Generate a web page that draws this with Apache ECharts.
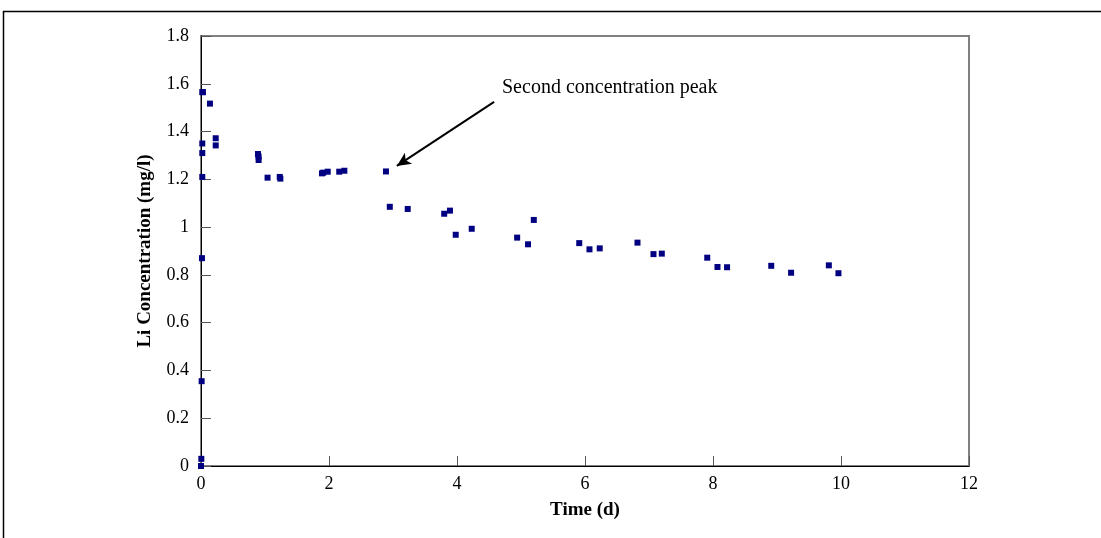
<!DOCTYPE html>
<html>
<head>
<meta charset="utf-8">
<script src="https://cdn.jsdelivr.net/npm/echarts@6/dist/echarts.min.js"></script>
<style>html,body{margin:0;padding:0;background:#fff}#c{width:1101px;height:538px}</style>
</head>
<body>
<div id="c"></div>
<script>
var timeDays = [0, 0.005, 0.01, 0.015, 0.02, 0.02, 0.02, 0.02, 0.03, 0.14, 0.23, 0.23,
  0.89, 0.9, 0.9, 1.04, 1.23, 1.24, 1.89, 1.91, 1.98, 2.16, 2.24, 2.89, 2.95, 3.23,
  3.80, 3.89, 3.98, 4.23, 4.94, 5.11, 5.20, 5.91, 6.07, 6.23, 6.82, 7.07, 7.20,
  7.91, 8.07, 8.22, 8.91, 9.22, 9.81, 9.96];
var liConc = [0.0, 0.03, 0.355, 0.87, 1.21, 1.31, 1.35, 1.565, 1.565, 1.517, 1.372, 1.342,
  1.306, 1.295, 1.281, 1.207, 1.21, 1.203, 1.225, 1.228, 1.232, 1.232, 1.236, 1.233, 1.085, 1.076,
  1.056, 1.069, 0.968, 0.993, 0.956, 0.928, 1.030, 0.933, 0.907, 0.911, 0.935, 0.887, 0.889,
  0.872, 0.833, 0.832, 0.838, 0.809, 0.840, 0.807];
var xTicks = [0, 2, 4, 6, 8, 10, 12];
var yTicks = [0, 0.2, 0.4, 0.6, 0.8, 1, 1.2, 1.4, 1.6, 1.8];
var annotationText = 'Second concentration peak';
var arrowFrom = [4.58, 1.524];
var arrowTo = [3.06, 1.256];

var pts = timeDays.map(function (t, i) { return [t, liConc[i]]; });
var font = 'Liberation Serif';
var chart = echarts.init(document.getElementById('c'), null, {renderer: 'canvas'});
chart.setOption({
  animation: false,
  backgroundColor: '#fff',
  textStyle: {fontFamily: font},
  grid: {left: 201, top: 36, right: 132, bottom: 72, show: true, borderColor: '#808080', borderWidth: 2, backgroundColor: 'transparent'},
  xAxis: {
    type: 'value', min: xTicks[0], max: xTicks[xTicks.length - 1], interval: 2,
    name: 'Time (d)', nameLocation: 'middle', nameGap: 35,
    nameTextStyle: {fontFamily: font, fontWeight: 'bold', fontSize: 19, color: '#000'},
    axisLine: {show: true, lineStyle: {color: '#000', width: 1}},
    axisTick: {show: true, inside: true, length: 10, lineStyle: {color: '#555'}},
    axisLabel: {fontFamily: font, fontSize: 18, color: '#000', margin: 9},
    splitLine: {show: false}
  },
  yAxis: {
    type: 'value', min: yTicks[0], max: yTicks[yTicks.length - 1], interval: 0.2,
    name: 'Li Concentration (mg/l)', nameLocation: 'middle', nameGap: 46, nameRotate: 90,
    nameTextStyle: {fontFamily: font, fontWeight: 'bold', fontSize: 19, color: '#000'},
    axisLine: {show: true, lineStyle: {color: '#000', width: 1}},
    axisTick: {show: true, inside: true, length: 10, lineStyle: {color: '#555'}},
    axisLabel: {fontFamily: font, fontSize: 18, color: '#000', margin: 12,
      formatter: function (v) { return String(Math.round(v * 10) / 10); }},
    splitLine: {show: false}
  },
  series: [{
    type: 'scatter', data: pts, symbol: 'rect', symbolSize: 6,
    itemStyle: {color: '#000080', opacity: 1},
    markLine: {
      silent: true, symbol: ['none', 'arrow'], symbolSize: [10, 14],
      lineStyle: {color: '#000', width: 2, type: 'solid', opacity: 1},
      label: {show: false},
      data: [[{coord: arrowFrom}, {coord: arrowTo}]]
    }
  }],
  graphic: [
    {type: 'rect', shape: {x: 3.5, y: 11.5, width: 1300, height: 700}, style: {fill: 'none', stroke: '#000', lineWidth: 1.5}, silent: true},
    {type: 'text', left: 502, top: 78, style: {text: annotationText, fontFamily: font, fontSize: 20, fill: '#000'}}
  ]
});
</script>
</body>
</html>
